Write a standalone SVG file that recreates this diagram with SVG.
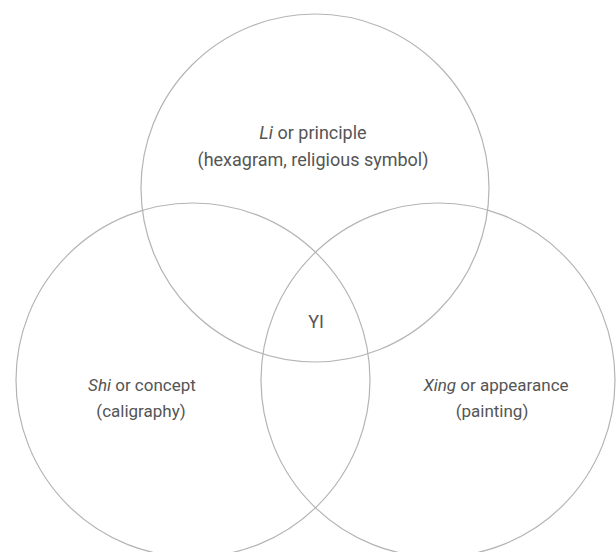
<svg xmlns="http://www.w3.org/2000/svg" width="616" height="552" viewBox="0 0 616 552">
  <style>
    .ring { fill: none; stroke: #b4b4b4; stroke-width: 1.2; }
    .label { font-family: Roboto, "Liberation Sans", sans-serif; font-size: 18px; fill: #555555; text-anchor: middle; }
    .small { font-size: 17px; }
    .em { font-style: italic; }
  </style>
  <rect width="616" height="552" fill="#ffffff"/>
  <g id="li">
    <circle class="ring" cx="315" cy="188" r="174"/>
    <text class="label" x="313" y="139"><tspan class="em">Li</tspan> or principle</text>
    <text class="label" x="313" y="166">(hexagram, religious symbol)</text>
  </g>
  <g id="shi">
    <circle class="ring" cx="193" cy="380" r="177"/>
    <text class="label small" x="142" y="391"><tspan class="em">Shi</tspan> or concept</text>
    <text class="label small" x="141" y="417">(caligraphy)</text>
  </g>
  <g id="xing">
    <circle class="ring" cx="438" cy="380" r="177"/>
    <text class="label small" x="496" y="391"><tspan class="em">Xing</tspan> or appearance</text>
    <text class="label small" x="492" y="417">(painting)</text>
  </g>
  <g id="yi">
    <text class="label" x="316" y="328">YI</text>
  </g>
</svg>
